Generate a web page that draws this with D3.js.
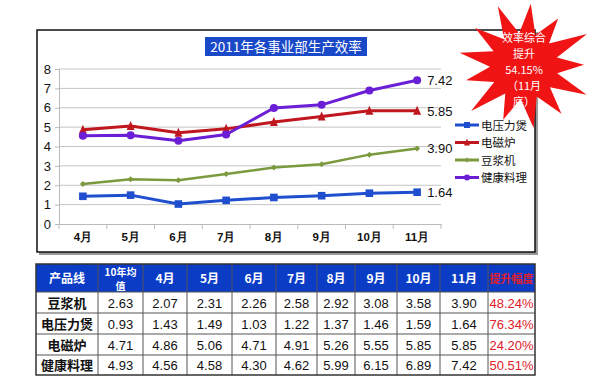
<!DOCTYPE html>
<html><head><meta charset="utf-8">
<script src="https://cdn.jsdelivr.net/npm/d3@7/dist/d3.min.js"></script>
<style>body{margin:0;background:#fff}svg{display:block;font-family:"Noto Sans CJK SC","Liberation Sans",sans-serif}</style>
</head><body><svg id="c" width="600" height="379"></svg>
<script>
const months = ["4月","5月","6月","7月","8月","9月","10月","11月"];
const seriesNames = ["电压力煲","电磁炉","豆浆机","健康料理"];
const pressureCooker = [1.43,1.49,1.03,1.22,1.37,1.46,1.59,1.64];
const inductionCooker = [4.86,5.06,4.71,4.91,5.26,5.55,5.85,5.85];
const soymilkMaker = [2.07,2.31,2.26,2.58,2.92,3.08,3.58,3.90];
const healthCooker = [4.56,4.58,4.30,4.62,5.99,6.15,6.89,7.42];
const yTicks = [0,1,2,3,4,5,6,7,8];
const avg2010 = [2.63,0.93,4.71,4.93];
const tableRows = ["豆浆机","电压力煲","电磁炉","健康料理"];
const growth = ["48.24%","76.34%","24.20%","50.51%"];
const tableHeader = ["产品线","10年均值","4月","5月","6月","7月","8月","9月","10月","11月","提升幅度"];
const chartTitle = "2011年各事业部生产效率";
const starLines = ["效率综合","提升","54.15%","（11月","底）"];

const colors = {"电压力煲":"#1f4fcf","电磁炉":"#c0161e","豆浆机":"#7b9a3e","健康料理":"#6a1ed6"};
const dataBy = {"电压力煲":pressureCooker,"电磁炉":inductionCooker,"豆浆机":soymilkMaker,"健康料理":healthCooker};
const tableData = {"豆浆机":soymilkMaker,"电压力煲":pressureCooker,"电磁炉":inductionCooker,"健康料理":healthCooker};

const svg = d3.select("#c");

// chart frame
svg.append("rect").attr("x",39).attr("y",32).attr("width",499).attr("height",223).attr("fill","#999");
svg.append("rect").attr("x",37).attr("y",30).attr("width",498).attr("height",222).attr("fill","#fff").attr("stroke","#111").attr("stroke-width",1.5);

// title
svg.append("rect").attr("x",205).attr("y",37).attr("width",162).attr("height",19).attr("fill","#1a49c8");
svg.append("text").attr("x",286).attr("y",51.5).attr("text-anchor","middle").attr("fill","#fff").attr("font-size",13.5).text(chartTitle);

const x = d3.scaleBand().domain(months).range([59,441]);
const y = d3.scaleLinear().domain([0,8]).range([224,69]);

svg.append("g").selectAll("line").data(yTicks.slice(1)).join("line")
  .attr("x1",59).attr("x2",441).attr("y1",d=>y(d)).attr("y2",d=>y(d)).attr("stroke","#c4c4c4").attr("stroke-width",1);

const ya = svg.append("g").attr("transform","translate(59,0)").call(d3.axisLeft(y).tickValues(yTicks).tickSize(4).tickPadding(4));
ya.select(".domain").attr("stroke","#bbb");
ya.selectAll(".tick line").attr("stroke","#bbb");
ya.selectAll("text").attr("font-size",13).attr("fill","#111").attr("font-family","Liberation Sans, Arial, sans-serif");

const xa = svg.append("g").attr("transform","translate(0,224)").call(d3.axisBottom(x).tickSize(0).tickPadding(9));
xa.select(".domain").attr("stroke","#bbb");
xa.selectAll("text").attr("font-size",11.5).attr("fill","#111").attr("font-weight","bold");
svg.append("g").selectAll("line").data(d3.range(months.length+1)).join("line")
  .attr("x1",i=>59+i*x.step()).attr("x2",i=>59+i*x.step()).attr("y1",224).attr("y2",229).attr("stroke","#bbb");

const cx = m => x(m)+x.bandwidth()/2;
const line = d3.line().x((d,i)=>cx(months[i])).y(d=>y(d));

function marker(g, name, px, py, s){
  const c = colors[name];
  if(name==="电压力煲") g.append("rect").attr("x",px-s).attr("y",py-s).attr("width",2*s).attr("height",2*s).attr("fill",c);
  else if(name==="电磁炉") g.append("path").attr("d",`M${px},${py-s-1}L${px+s},${py+s}L${px-s},${py+s}Z`).attr("fill",c);
  else if(name==="豆浆机") g.append("path").attr("d",`M${px},${py-s}L${px+s},${py}L${px},${py+s}L${px-s},${py}Z`).attr("fill",c);
  else g.append("circle").attr("cx",px).attr("cy",py).attr("r",s).attr("fill",c);
}
const msize = {"电压力煲":3.8,"电磁炉":4,"豆浆机":3,"健康料理":4};
const lw = {"电压力煲":3,"电磁炉":3,"豆浆机":2.5,"健康料理":3};

const drawOrder = ["豆浆机","电压力煲","电磁炉","健康料理"];
drawOrder.forEach(name=>{
  const vals = dataBy[name];
  svg.append("path").datum(vals).attr("d",line).attr("fill","none").attr("stroke",colors[name]).attr("stroke-width",lw[name]).attr("stroke-linejoin","round");
  const g = svg.append("g");
  vals.forEach((v,i)=>marker(g,name,cx(months[i]),y(v),msize[name]));
  svg.append("text").attr("x",cx(months[7])+10).attr("y",y(vals[7])+5).attr("font-size",13).attr("fill","#111")
    .attr("font-family","Liberation Sans, Arial, sans-serif").text(vals[7].toFixed(2));
});

// legend
seriesNames.forEach((name,i)=>{
  const ly = 125 + i*17.5;
  svg.append("line").attr("x1",455).attr("x2",479).attr("y1",ly).attr("y2",ly).attr("stroke",colors[name]).attr("stroke-width",3);
  marker(svg,name,467,ly,name==="豆浆机"?2.5:3);
  svg.append("text").attr("x",481).attr("y",ly+4.5).attr("font-size",11.5).attr("fill","#111").text(name);
});

// star burst
const starPts = [];
const outerR = [68,62,72,60,70,64,68,62,72,60,66,64,70];
const n = outerR.length;
const scx = 524, scy = 66;
for(let i=0;i<n;i++){
  const a0 = (i/n)*2*Math.PI - Math.PI/2 + 0.1;
  const a1 = ((i+0.5)/n)*2*Math.PI - Math.PI/2 + 0.1;
  starPts.push([scx+outerR[i]*Math.cos(a0), scy+outerR[i]*0.92*Math.sin(a0)]);
  starPts.push([scx+34*Math.cos(a1), scy+33*Math.sin(a1)]);
}
svg.append("path").attr("d",d3.line()(starPts)+"Z").attr("fill","#f01414");
const st = svg.append("text").attr("text-anchor","middle").attr("fill","#fff").attr("font-size",11);
starLines.forEach((t,i)=>{
  st.append("tspan").attr("x",scx).attr("y",42+i*16).text(t);
});

// table
const colEdges = [36,98,143,187,232,276,317,355,397,440,488,535];
const rowEdges = [264,292,313,334,355,375];
const tg = svg.append("g");
tg.append("rect").attr("x",36).attr("y",264).attr("width",499).attr("height",28).attr("fill","#0b3cc6");
tableHeader.forEach((h,j)=>{
  const mx = (colEdges[j]+colEdges[j+1])/2;
  if(h==="10年均值"){
    const ht = tg.append("text").attr("text-anchor","middle").attr("fill","#fff").attr("font-size",10).attr("font-weight","bold");
    ht.append("tspan").attr("x",mx).attr("y",275.5).text("10年均");
    ht.append("tspan").attr("x",mx).attr("y",290).text("值");
  } else {
    tg.append("text").attr("x",mx).attr("y",283).attr("text-anchor","middle").attr("fill",h==="提升幅度"?"#e0202a":"#fff").attr("font-size",h==="提升幅度"?11:12).attr("font-weight","bold").text(h);
  }
});
tableRows.forEach((r,i)=>{
  const ty = (rowEdges[i+1]+rowEdges[i+2])/2 + 5;
  const cells = [r, avg2010[i].toFixed(2), ...tableData[r].map(v=>v.toFixed(2)), growth[i]];
  cells.forEach((c,j)=>{
    const mx = (colEdges[j]+colEdges[j+1])/2;
    tg.append("text").attr("x",mx).attr("y",ty).attr("text-anchor","middle")
      .attr("fill",j===cells.length-1?"#e0202a":"#111").attr("font-size",13)
      .attr("font-weight",j===0?"bold":"normal")
      .attr("font-family",j===0?"Noto Sans CJK SC":"Liberation Sans, Arial, sans-serif").text(c);
  });
});
rowEdges.slice(1,-1).forEach(ry=>tg.append("line").attr("x1",36).attr("x2",535).attr("y1",ry).attr("y2",ry).attr("stroke","#555").attr("stroke-width",1));
colEdges.slice(1,-1).forEach(cxv=>tg.append("line").attr("x1",cxv).attr("x2",cxv).attr("y1",264).attr("y2",375).attr("stroke","#555").attr("stroke-width",1));
tg.append("rect").attr("x",36).attr("y",264).attr("width",499).attr("height",111).attr("fill","none").attr("stroke","#333").attr("stroke-width",1.5);
</script></body></html>
